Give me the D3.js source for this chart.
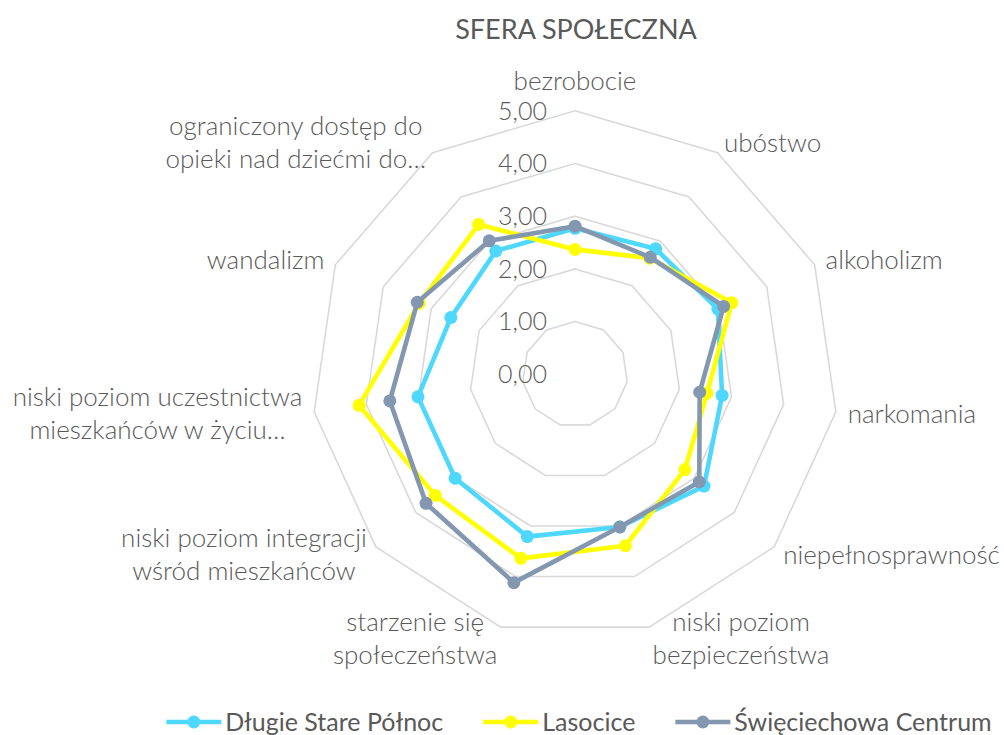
<!DOCTYPE html>
<html>
<head>
<meta charset="utf-8">
<script src="https://cdn.jsdelivr.net/npm/d3@7"></script>
<style>
  body { margin: 0; background: #fff; }
  svg { display: block; }
  .lbl { font-family: Lato, "Open Sans", sans-serif; font-weight: 300; fill: #595959; }
</style>
</head>
<body>
<script>
var width = 1004;
var height = 735;

// categories (multi-line labels are split as in the original)
var categories = [
  ["bezrobocie"],
  ["ubóstwo"],
  ["alkoholizm"],
  ["narkomania"],
  ["niepełnosprawność"],
  ["niski poziom", "bezpieczeństwa"],
  ["starzenie się", "społeczeństwa"],
  ["niski poziom integracji", "wśród mieszkańców"],
  ["niski poziom uczestnictwa", "mieszkańców w życiu…"],
  ["wandalizm"],
  ["ograniczony dostęp do", "opieki nad dziećmi do…"]
];

var seriesNames = ["Długie Stare Północ", "Lasocice", "Święciechowa Centrum"];
var seriesColors = ["#4FD8FD", "#FFFF00", "#8497B0"];

var dlugieValues = [2.77, 2.83, 2.98, 2.82, 3.24, 3.02, 3.21, 3.01, 3.01, 2.59, 2.78];
var lasociceValues = [2.37, 2.62, 3.27, 2.53, 2.76, 3.39, 3.64, 3.51, 4.14, 3.25, 3.38];
var swieciechowaValues = [2.81, 2.64, 3.10, 2.39, 3.12, 3.02, 4.12, 3.74, 3.55, 3.29, 3.01];

var tickValues = [0, 1, 2, 3, 4, 5];
var tickLabels = ["0,00", "1,00", "2,00", "3,00", "4,00", "5,00"];

var cx = 575, cy = 374.3, outerR = 263.5;

var svg = d3.select("body").append("svg")
  .attr("width", width)
  .attr("height", height);

var rScale = d3.scaleLinear().domain([0, 5]).range([0, outerR]);
var step = 2 * Math.PI / categories.length;

var plot = svg.append("g").attr("transform", "translate(" + cx + "," + cy + ")");

// grid polygons
var gridLine = d3.lineRadial()
  .angle(function(d, i) { return i * step; })
  .radius(function(d) { return rScale(d); })
  .curve(d3.curveLinearClosed);

tickValues.filter(function(t) { return t > 0; }).forEach(function(t) {
  plot.append("path")
    .attr("d", gridLine(categories.map(function() { return t; })))
    .attr("fill", "none")
    .attr("stroke", "#D9D9D9")
    .attr("stroke-width", 1.6);
});

// tick labels
plot.selectAll(".tick")
  .data(tickValues)
  .enter()
  .append("text")
  .attr("class", "lbl")
  .attr("x", -28)
  .attr("y", function(d) { return -rScale(d); })
  .attr("dy", "0.35em")
  .attr("text-anchor", "end")
  .style("font-size", "25px")
  .text(function(d, i) { return tickLabels[i]; });

// series
var allSeries = [dlugieValues, lasociceValues, swieciechowaValues];

allSeries.forEach(function(values, s) {
  plot.append("path")
    .attr("d", gridLine(values))
    .attr("fill", "none")
    .attr("stroke", seriesColors[s])
    .attr("stroke-width", 4.6)
    .attr("stroke-linejoin", "round");

  plot.selectAll(".pt" + s)
    .data(values)
    .enter()
    .append("circle")
    .attr("cx", function(d, i) { return rScale(d) * Math.sin(i * step); })
    .attr("cy", function(d, i) { return -rScale(d) * Math.cos(i * step); })
    .attr("r", 6.5)
    .attr("fill", seriesColors[s]);
});

// category labels
var lineH = 33;
categories.forEach(function(lines, i) {
  var a = i * step;
  var sn = Math.sin(a), cs = Math.cos(a);
  var ax = (outerR + 12) * sn;
  var ay = -(outerR + 12) * cs;

  var g = plot.append("g");
  var texts = lines.map(function(l) {
    return g.append("text")
      .attr("class", "lbl")
      .attr("text-anchor", "middle")
      .attr("dy", "0.35em")
      .style("font-size", "26px")
      .text(l);
  });
  var blockW = d3.max(texts, function(t) { return t.node().getComputedTextLength(); });
  var centerX, centerY;
  if (Math.abs(sn) < 0.1) {
    centerX = ax;
    centerY = ay - 18 - (lines.length - 1) * lineH / 2;
  } else {
    centerX = sn > 0 ? ax + blockW / 2 : ax - blockW / 2;
    centerY = ay;
  }
  texts.forEach(function(t, j) {
    t.attr("x", centerX)
     .attr("y", centerY + (j - (lines.length - 1) / 2) * lineH);
  });
});

// title
svg.append("text")
  .attr("class", "lbl")
  .attr("x", 576)
  .attr("y", 30)
  .attr("dy", "0.35em")
  .attr("text-anchor", "middle")
  .style("font-size", "27px")
  .style("font-weight", 400)
  .text("SFERA SPOŁECZNA");

// legend
var legend = svg.append("g");
var x0 = 0;
seriesNames.forEach(function(name, s) {
  var item = legend.append("g").attr("transform", "translate(" + x0 + ",0)");
  item.append("line")
    .attr("x1", 0).attr("x2", 55)
    .attr("y1", 0).attr("y2", 0)
    .attr("stroke", seriesColors[s])
    .attr("stroke-width", 4.6);
  item.append("circle")
    .attr("cx", 27.5).attr("cy", 0).attr("r", 6.5)
    .attr("fill", seriesColors[s]);
  var t = item.append("text")
    .attr("class", "lbl")
    .attr("x", 59)
    .attr("dy", "0.35em")
    .style("font-size", "25px")
    .style("font-weight", 400)
    .text(name);
  x0 += 59 + t.node().getComputedTextLength() + 40;
});
var legendW = x0 - 40;
legend.attr("transform", "translate(" + (579 - legendW / 2) + ",722)");
</script>
</body>
</html>
